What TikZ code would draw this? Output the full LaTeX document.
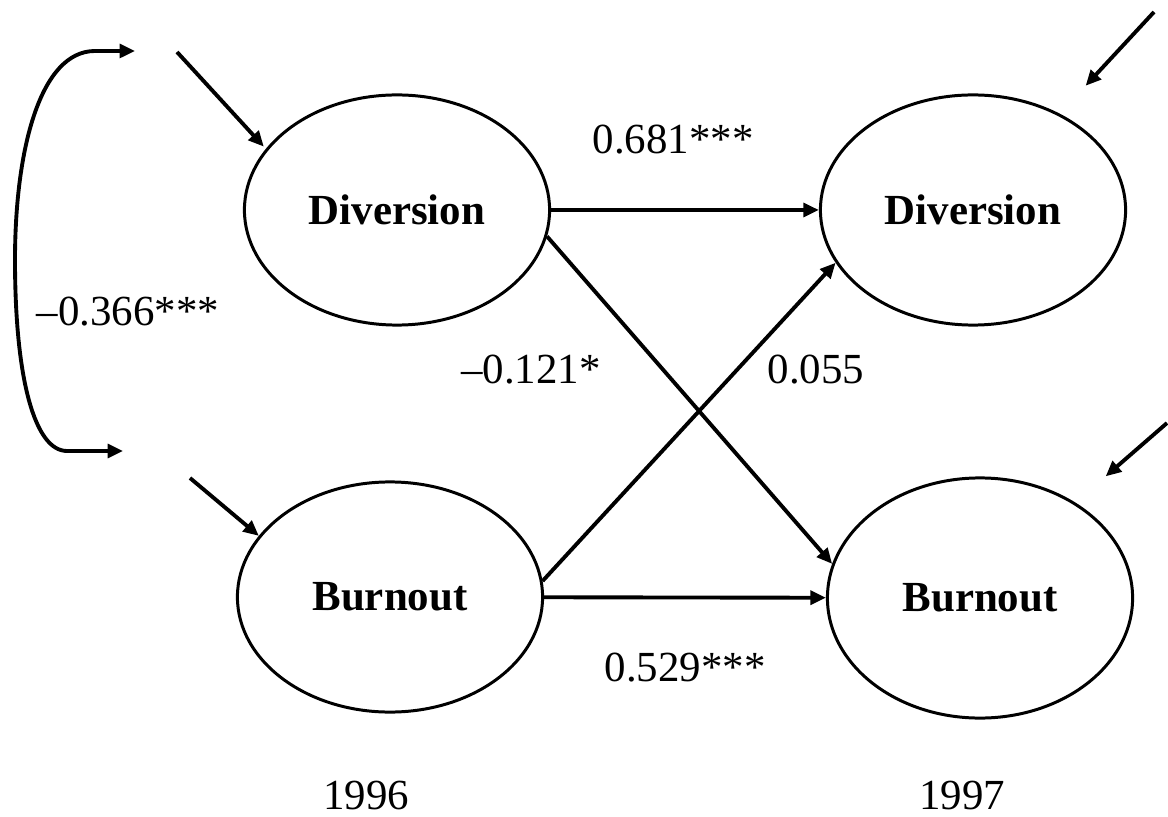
\documentclass[tikz,border=0pt]{standalone}
\usepackage{fontspec}
\setmainfont{Liberation Serif}
\usetikzlibrary{shapes.geometric,arrows.meta}

\begin{document}
\begin{tikzpicture}[x=0.01cm,y=-0.01cm,
      latent/.style={ellipse,draw=black,line width=0.85pt,minimum width=3.05cm,minimum height=2.3cm,inner sep=0pt,font=\bfseries},
      coef/.style={inner sep=1pt},
      arr/.style={line width=1.1pt,-{Triangle[length=4.4pt,width=3.9pt]}}
      ]
      \fontsize{12.2}{14}\selectfont
      \useasboundingbox (0,0) rectangle (1168,816);
      \node (div96) [latent] at (397,210) {Diversion};
      \node (div97) [latent] at (973,210) {Diversion};
      \node (bur96) [latent] at (390,597) {Burnout};
      \node (bur97) [latent,minimum height=2.4cm] at (980,598) {Burnout};
      \coordinate (ed96) at (177,52);
      \coordinate (eb96) at (190,478);
      \coordinate (ed97) at (1154,12);
      \coordinate (eb97) at (1167,423);
      \coordinate (cvtop) at (135,51);
      \coordinate (cvbot) at (123,451);
      \draw[arr] (div96) -- (div97);
      \draw[arr] (bur96) -- (bur97);
      \draw[arr] (div96.-10) -- (bur97.167);
      \draw[arr] (bur96.6) -- (div97.201);
      \draw[arr,shorten >=0.03cm] (ed96) -- (div96.155);
      \draw[arr] (eb96) -- (bur96.155);
      \draw[arr,shorten >=0.38cm] (ed97) -- (div97.48);
      \draw[arr,shorten >=0.4cm] (eb97) -- (bur97.45);
      \draw[arr,{Triangle[length=4.4pt,width=3.9pt]}-{Triangle[length=4.4pt,width=3.9pt]}] (cvbot) -- ++(-56,0) .. controls (35,451) and (15,380) .. (15,260)
            .. controls (15,150) and (40,51) .. (95,51) -- (cvtop);
      \node (k1) [coef] at (128,312) {--0.366***};
      \node (k2) [coef] at (673,140) {0.681***};
      \node (k3) [coef] at (531,370) {--0.121*};
      \node (k4) [coef] at (816,370) {0.055};
      \node (k5) [coef] at (685,668) {0.529***};
      \node (y96) at (366,795) {1996};
      \node (y97) at (962,795) {1997};
    \end{tikzpicture}
\end{document}
